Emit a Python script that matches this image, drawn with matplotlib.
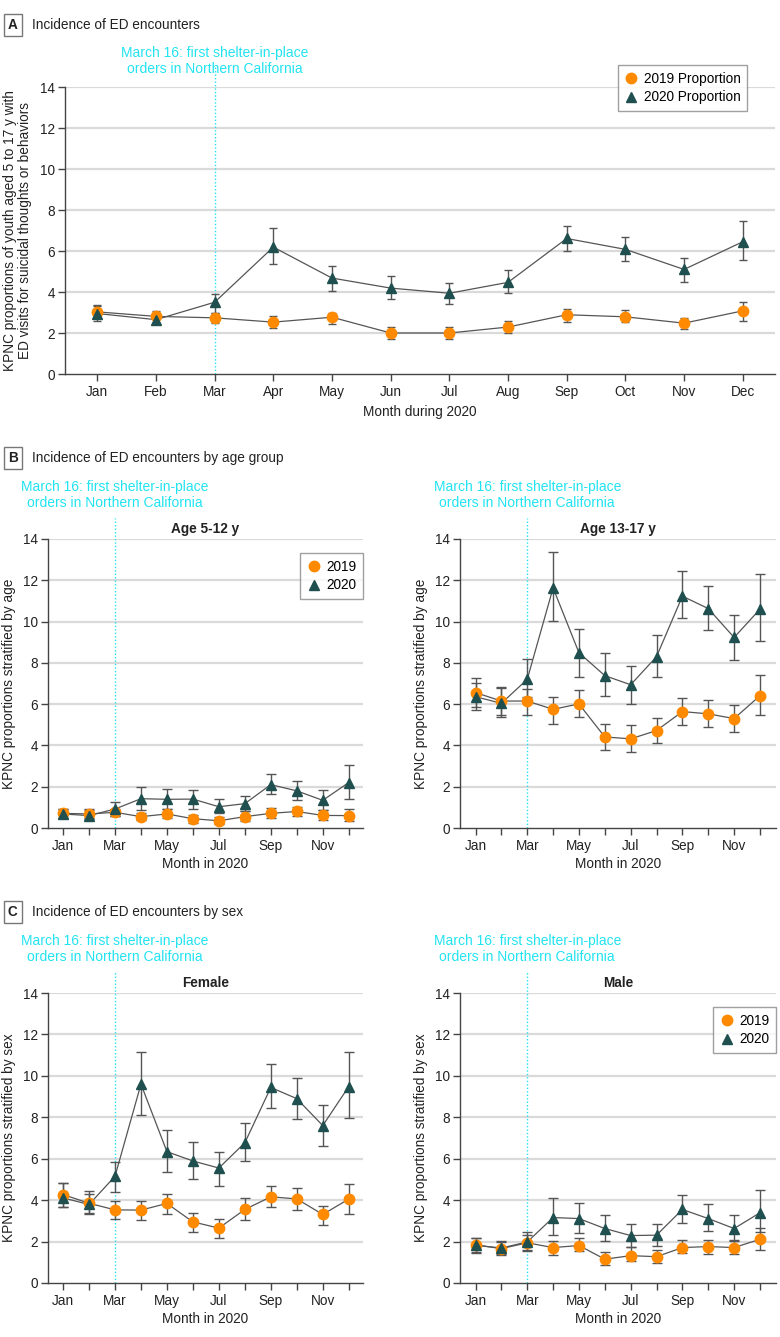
import numpy as np
import matplotlib
matplotlib.use("Agg")
import matplotlib.pyplot as plt

plt.rcParams['font.family'] = ['Liberation Sans', 'DejaVu Sans']

months = ['Jan', 'Feb', 'Mar', 'Apr', 'May', 'Jun', 'Jul', 'Aug', 'Sep', 'Oct', 'Nov', 'Dec']

# Panel A - all youth
a_2019 = [3.03, 2.81, 2.74, 2.53, 2.77, 2.00, 2.00, 2.29, 2.89, 2.79, 2.48, 3.08]
a_2019_lo = [2.74, 2.48, 2.50, 2.26, 2.45, 1.73, 1.69, 2.02, 2.56, 2.52, 2.19, 2.60]
a_2019_hi = [3.37, 3.06, 3.00, 2.82, 3.00, 2.29, 2.27, 2.60, 3.16, 3.10, 2.74, 3.50]
a_2020 = [2.95, 2.65, 3.50, 6.19, 4.68, 4.19, 3.94, 4.47, 6.61, 6.08, 5.10, 6.45]
a_2020_lo = [2.60, 2.45, 2.97, 5.35, 4.06, 3.66, 3.42, 3.95, 5.98, 5.50, 4.48, 5.55]
a_2020_hi = [3.30, 3.00, 3.90, 7.10, 5.26, 4.76, 4.44, 5.05, 7.24, 6.69, 5.66, 7.45]

# Panel B - age 5-12 y
b1_2019 = [0.71, 0.68, 0.76, 0.55, 0.68, 0.45, 0.35, 0.55, 0.71, 0.80, 0.61, 0.60]
b1_2019_lo = [0.48, 0.48, 0.60, 0.40, 0.48, 0.24, 0.21, 0.35, 0.48, 0.60, 0.40, 0.35]
b1_2019_hi = [0.92, 0.90, 0.90, 0.72, 0.93, 0.61, 0.52, 0.80, 0.97, 1.00, 0.89, 0.92]
b1_2020 = [0.68, 0.60, 0.92, 1.42, 1.39, 1.40, 1.03, 1.18, 2.10, 1.80, 1.34, 2.20]
b1_2020_lo = [0.50, 0.45, 0.56, 0.89, 0.93, 0.93, 0.72, 0.84, 1.64, 1.35, 0.89, 1.42]
b1_2020_hi = [0.90, 0.85, 1.26, 2.01, 1.88, 1.85, 1.40, 1.56, 2.61, 2.30, 1.84, 3.06]

# Panel B - age 13-17 y
b2_2019 = [6.56, 6.15, 6.15, 5.75, 6.01, 4.41, 4.32, 4.72, 5.64, 5.53, 5.30, 6.41]
b2_2019_lo = [5.88, 5.48, 5.48, 5.06, 5.36, 3.79, 3.66, 4.11, 4.99, 4.91, 4.67, 5.45]
b2_2019_hi = [7.04, 6.80, 6.73, 6.36, 6.69, 5.06, 4.98, 5.32, 6.28, 6.19, 5.96, 7.39]
b2_2020 = [6.36, 6.04, 7.20, 11.63, 8.49, 7.38, 6.94, 8.30, 11.23, 10.63, 9.23, 10.60]
b2_2020_lo = [5.72, 5.40, 6.36, 10.04, 7.30, 6.40, 5.99, 7.30, 10.15, 9.57, 8.14, 9.04]
b2_2020_hi = [7.25, 6.85, 8.18, 13.39, 9.62, 8.49, 7.86, 9.33, 12.44, 11.74, 10.34, 12.32]

# Panel C - female
c1_2019 = [4.27, 3.85, 3.53, 3.52, 3.84, 2.95, 2.65, 3.55, 4.16, 4.06, 3.31, 4.05]
c1_2019_lo = [3.68, 3.40, 3.11, 3.03, 3.34, 2.44, 2.15, 3.06, 3.65, 3.52, 2.82, 3.32]
c1_2019_hi = [4.81, 4.30, 3.97, 3.97, 4.29, 3.40, 3.11, 4.08, 4.69, 4.60, 3.74, 4.79]
c1_2020 = [4.11, 3.79, 5.15, 9.60, 6.34, 5.89, 5.55, 6.77, 9.44, 8.90, 7.60, 9.48]
c1_2020_lo = [3.68, 3.35, 4.37, 8.10, 5.34, 5.00, 4.69, 5.87, 8.44, 7.90, 6.61, 7.97]
c1_2020_hi = [4.84, 4.44, 5.82, 11.15, 7.37, 6.81, 6.31, 7.71, 10.56, 9.89, 8.58, 11.15]

# Panel C - male
c2_2019 = [1.84, 1.66, 1.94, 1.71, 1.81, 1.15, 1.32, 1.27, 1.71, 1.76, 1.71, 2.11]
c2_2019_lo = [1.45, 1.34, 1.55, 1.34, 1.53, 0.85, 1.05, 0.97, 1.47, 1.42, 1.42, 1.61]
c2_2019_hi = [2.19, 2.02, 2.34, 2.02, 2.15, 1.50, 1.74, 1.58, 2.06, 2.06, 2.03, 2.66]
c2_2020 = [1.82, 1.69, 1.98, 3.16, 3.11, 2.63, 2.29, 2.31, 3.55, 3.11, 2.63, 3.39]
c2_2020_lo = [1.50, 1.39, 1.58, 2.34, 2.39, 2.02, 1.74, 1.77, 2.90, 2.53, 2.06, 2.47]
c2_2020_hi = [2.19, 1.98, 2.44, 4.08, 3.84, 3.27, 2.87, 2.85, 4.27, 3.79, 3.26, 4.47]

ORANGE = '#FF8A00'
TEAL = '#1F4F4F'
CYAN = '#22E3F2'
GRID = '#DADADA'
AXC = '#444444'
TXT = '#222222'
FS = 9.8
note = 'March 16: first shelter-in-place\norders in Northern California'

W, H = 780, 1337
fig = plt.figure(figsize=(W / 100, H / 100), dpi=100)


def box(x0, y0, x1, y1):
    # pixel box -> figure fraction rect
    return [x0 / W, 1 - y1 / H, (x1 - x0) / W, (y1 - y0) / H]


def draw(ax, s19, lo19, hi19, s20, lo20, hi20, lab19, lab20, every_other,
         xlim, msize, cap):
    x = np.arange(len(months))
    s19 = np.array(s19); s20 = np.array(s20)
    err19 = [s19 - np.array(lo19), np.array(hi19) - s19]
    err20 = [s20 - np.array(lo20), np.array(hi20) - s20]
    for y in range(2, 15, 2):
        ax.axhline(y, color=GRID, lw=1.6, zorder=0)
    ax.errorbar(x, s19, yerr=err19, fmt='none', ecolor='#555555', elinewidth=1.0,
                capsize=cap, capthick=1.0, zorder=2)
    ax.errorbar(x, s20, yerr=err20, fmt='none', ecolor='#555555', elinewidth=1.0,
                capsize=cap, capthick=1.0, zorder=2)
    ax.plot(x, s19, color='#555555', lw=0.9, zorder=3)
    ax.plot(x, s20, color='#555555', lw=0.9, zorder=3)
    ax.plot(x, s19, 'o', color=ORANGE, ms=msize, mec=ORANGE, zorder=4, label=lab19)
    ax.plot(x, s20, '^', color=TEAL, ms=msize, mec=TEAL, zorder=5, label=lab20)
    ax.set_xlim(*xlim)
    ax.set_ylim(0, 14)
    ax.set_yticks(range(0, 15, 2))
    ax.set_xticks(x)
    if every_other:
        ax.set_xticklabels([m if i % 2 == 0 else '' for i, m in enumerate(months)])
    else:
        ax.set_xticklabels(months)
    for s in ['top', 'right']:
        ax.spines[s].set_visible(False)
    for s in ['left', 'bottom']:
        ax.spines[s].set_color(AXC)
        ax.spines[s].set_linewidth(1.0)
    ax.tick_params(axis='both', colors=AXC, labelcolor=TXT, labelsize=FS,
                   length=5, width=1.0)
    ax.tick_params(axis='x', pad=3)
    ax.tick_params(axis='y', pad=2)
    # shelter-in-place line at March
    ax.plot([2, 2], [0, 15.0], color=CYAN, lw=1.0, ls=(0, (1, 1.5)), zorder=1,
            clip_on=False)


def header(letter, text, ypix):
    fig.text(8 / W, 1 - ypix / H, letter, fontsize=FS, fontweight='bold',
             ha='left', va='center', color=TXT,
             bbox=dict(boxstyle='square,pad=0.3', fc='white', ec='#777777', lw=1.0))
    fig.text(32 / W, 1 - ypix / H, text, fontsize=FS, ha='left', va='center',
             color=TXT)


def annotate(ax, ypix_center):
    xd = ax.transData.transform((2, 0))[0]
    fig.text(xd / W, 1 - ypix_center / H, note, fontsize=10, color=CYAN,
             ha='center', va='center', linespacing=1.15)


leg_kw = dict(frameon=True, fancybox=False, edgecolor='#888888', fontsize=FS,
              handletextpad=0.4, borderpad=0.5, labelspacing=0.35,
              handlelength=1.0, borderaxespad=0)

# ---- Panel A
axA = fig.add_axes(box(65, 87, 775, 374))
draw(axA, a_2019, a_2019_lo, a_2019_hi, a_2020, a_2020_lo, a_2020_hi,
     '2019 Proportion', '2020 Proportion', False, (-0.55, 11.55), 7.5, 3)
axA.set_ylabel('KPNC proportions of youth aged 5 to 17 y with\n'
               'ED visits for suicidal thoughts or behaviors', fontsize=FS,
               color=TXT, labelpad=6, linespacing=1.1)
axA.set_xlabel('Month during 2020', fontsize=FS, color=TXT, labelpad=4)
axA.legend(loc='upper right', bbox_to_anchor=(0.961, 1.077), **leg_kw)
header('A', 'Incidence of ED encounters', 25)
annotate(axA, 61)

# ---- Panel B
axB1 = fig.add_axes(box(48, 539, 363, 828))
draw(axB1, b1_2019, b1_2019_lo, b1_2019_hi, b1_2020, b1_2020_lo, b1_2020_hi,
     '2019', '2020', True, (-0.58, 11.55), 7.5, 3.5)
axB2 = fig.add_axes(box(460, 539, 776, 828))
draw(axB2, b2_2019, b2_2019_lo, b2_2019_hi, b2_2020, b2_2020_lo, b2_2020_hi,
     '2019', '2020', True, (-0.6, 11.62), 7.5, 3.5)
for ax, t in [(axB1, 'Age 5-12 y'), (axB2, 'Age 13-17 y')]:
    ax.set_title(t, fontsize=FS, fontweight='bold', color=TXT, pad=4)
    ax.set_ylabel('KPNC proportions stratified by age', fontsize=FS,
                  color=TXT, labelpad=5)
    ax.set_xlabel('Month in 2020', fontsize=FS, color=TXT, labelpad=3)
    annotate(ax, 495)
axB1.legend(loc='upper right', bbox_to_anchor=(1.0, 0.952), **leg_kw)
header('B', 'Incidence of ED encounters by age group', 458)

# ---- Panel C
axC1 = fig.add_axes(box(48, 993, 363, 1283))
draw(axC1, c1_2019, c1_2019_lo, c1_2019_hi, c1_2020, c1_2020_lo, c1_2020_hi,
     '2019', '2020', True, (-0.58, 11.55), 7.5, 3.5)
axC2 = fig.add_axes(box(460, 993, 776, 1283))
draw(axC2, c2_2019, c2_2019_lo, c2_2019_hi, c2_2020, c2_2020_lo, c2_2020_hi,
     '2019', '2020', True, (-0.6, 11.62), 7.5, 3.5)
for ax, t in [(axC1, 'Female'), (axC2, 'Male')]:
    ax.set_title(t, fontsize=FS, fontweight='bold', color=TXT, pad=4)
    ax.set_ylabel('KPNC proportions stratified by sex', fontsize=FS,
                  color=TXT, labelpad=5)
    ax.set_xlabel('Month in 2020', fontsize=FS, color=TXT, labelpad=3)
    annotate(ax, 949)
axC2.legend(loc='upper right', bbox_to_anchor=(1.0, 0.952), **leg_kw)
header('C', 'Incidence of ED encounters by sex', 912)

fig.savefig('out.png', dpi=100)
